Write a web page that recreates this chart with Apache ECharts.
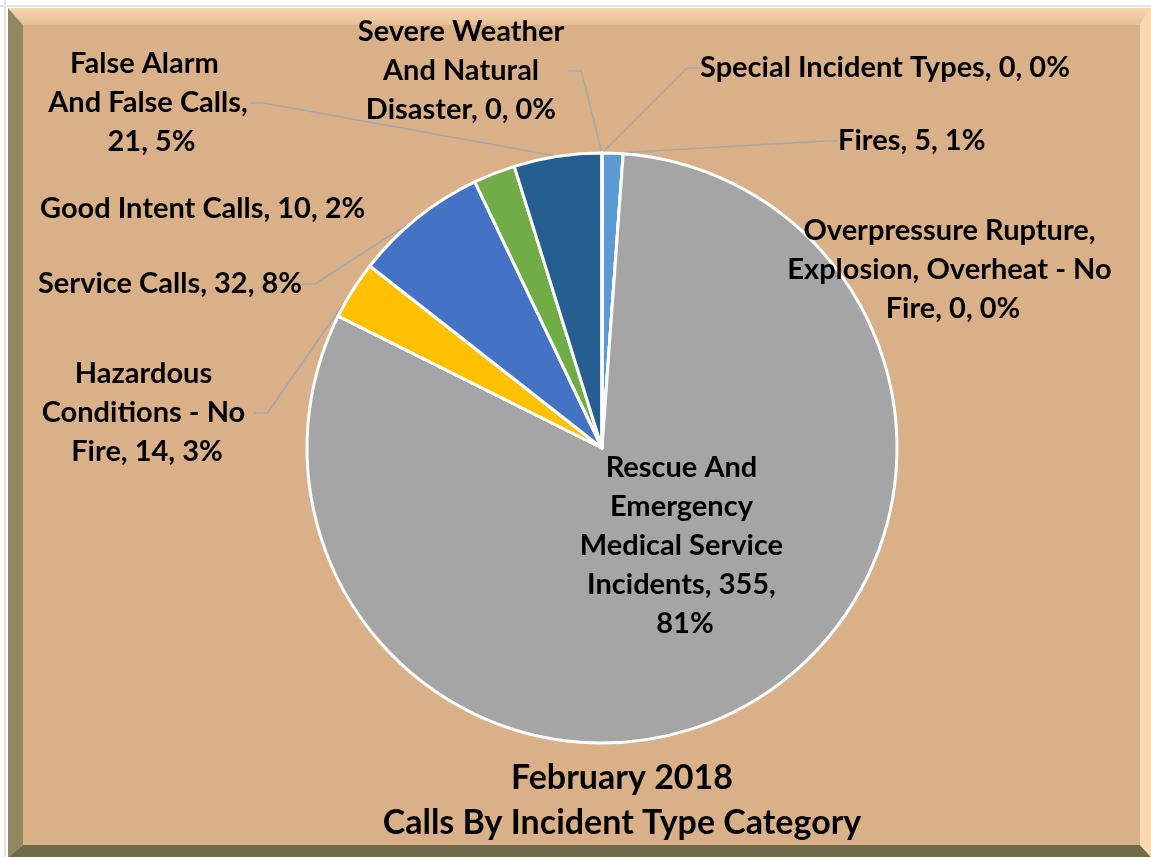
<!DOCTYPE html>
<html>
<head>
<meta charset="utf-8">
<title>February 2018 Calls By Incident Type Category</title>
<script src="https://cdn.jsdelivr.net/npm/echarts@6/dist/echarts.min.js"></script>
<style>
html, body { margin: 0; padding: 0; background: #fff; }
#chart { width: 1151px; height: 857px; }
</style>
</head>
<body>
<div id="chart"></div>
<script>
// slices go clockwise from 12 o'clock, same order as the incident type codes
const categories = [
    'Fires',
    'Overpressure Rupture, Explosion, Overheat - No Fire',
    'Rescue And Emergency Medical Service Incidents',
    'Hazardous Conditions - No Fire',
    'Service Calls',
    'Good Intent Calls',
    'False Alarm And False Calls',
    'Severe Weather And Natural Disaster',
    'Special Incident Types'
];
const callCounts = [5, 0, 355, 14, 32, 10, 21, 0, 0];
const sliceColors = ['#5b9bd5', '#ed7d31', '#a5a5a5', '#ffc000', '#4472c4', '#70ad47', '#255e91', '#9e480e', '#636363'];

// label placement: [x, y, align, wrap width, show leader line]
const labelSpots = [
    [838, 141, 'left', null, true],
    [953, 270, 'center', 340, false],
    [685, 546, 'center', 215, false],
    [147, 413, 'center', 215, true],
    [38, 284, 'left', null, true],
    [40, 209, 'left', null, false],
    [148, 103, 'center', 205, true],
    [461, 71, 'center', 215, true],
    [700, 68, 'left', null, true]
];

const chart = echarts.init(document.getElementById('chart'));

const pieData = categories.map((name, i) => {
    const spot = labelSpots[i];
    const item = {
        name: name,
        value: callCounts[i],
        itemStyle: { color: sliceColors[i] },
        labelLine: { show: spot[4] }
    };
    item.label = { position: i === 2 ? 'inside' : 'outside' };
    if (spot[3]) {
        item.label.width = spot[3];
        item.label.overflow = 'break';
    }
    return item;
});

const option = {
    backgroundColor: '#ffffff',
    graphic: [
        // bevelled frame
        { type: 'rect', shape: { x: 23, y: 25, width: 1117, height: 820 }, style: { fill: '#dab088' }, z: -10 },
        {
            type: 'polygon', z: -9,
            shape: { points: [[8, 8], [1151, 8], [1140, 25], [23, 25]] },
            style: { fill: new echarts.graphic.LinearGradient(0, 0, 0, 1, [{ offset: 0, color: '#f7d6b0' }, { offset: 1, color: '#e8be94' }]) }
        },
        { type: 'polygon', z: -9, shape: { points: [[8, 8], [23, 25], [23, 845], [8, 857]] }, style: { fill: '#928860' } },
        { type: 'polygon', z: -9, shape: { points: [[8, 857], [23, 845], [1140, 845], [1151, 857]] }, style: { fill: '#6e6a4b' } },
        { type: 'polygon', z: -9, shape: { points: [[1151, 8], [1151, 857], [1140, 845], [1140, 25]] }, style: { fill: '#f8d9b4' } },
        { type: 'rect', shape: { x: 0, y: 5, width: 1151, height: 2 }, style: { fill: '#e4e4e4' }, z: -9 },
        { type: 'rect', shape: { x: 4, y: 0, width: 2, height: 857 }, style: { fill: '#e4e4e4' }, z: -9 }
    ],
    title: {
        text: 'February 2018\nCalls By Incident Type Category',
        left: 617,
        top: 751,
        textAlign: 'center',
        textStyle: {
            fontFamily: 'Lato',
            fontWeight: 'bold',
            fontSize: 34,
            lineHeight: 45,
            color: '#000'
        }
    },
    series: [{
        type: 'pie',
        center: [602, 448],
        radius: 295,
        startAngle: 90,
        clockwise: true,
        avoidLabelOverlap: false,
        percentPrecision: 0,
        animation: false,
        itemStyle: { borderColor: '#ffffff', borderWidth: 3 },
        label: {
            show: true,
            fontFamily: 'Lato',
            fontWeight: 'bold',
            fontSize: 29,
            lineHeight: 39,
            color: '#000',
            formatter: p => `${p.name}, ${p.value}, ${p.percent}%`
        },
        labelLine: {
            show: true,
            length: 10,
            length2: 13,
            lineStyle: { color: '#a6a6a6', width: 1.5 }
        },
        labelLayout: params => {
            const spot = labelSpots[params.dataIndex];
            return { x: spot[0], y: spot[1], align: spot[2], verticalAlign: 'middle' };
        },
        emphasis: { disabled: true },
        data: pieData
    }]
};

chart.setOption(option);
</script>
</body>
</html>
